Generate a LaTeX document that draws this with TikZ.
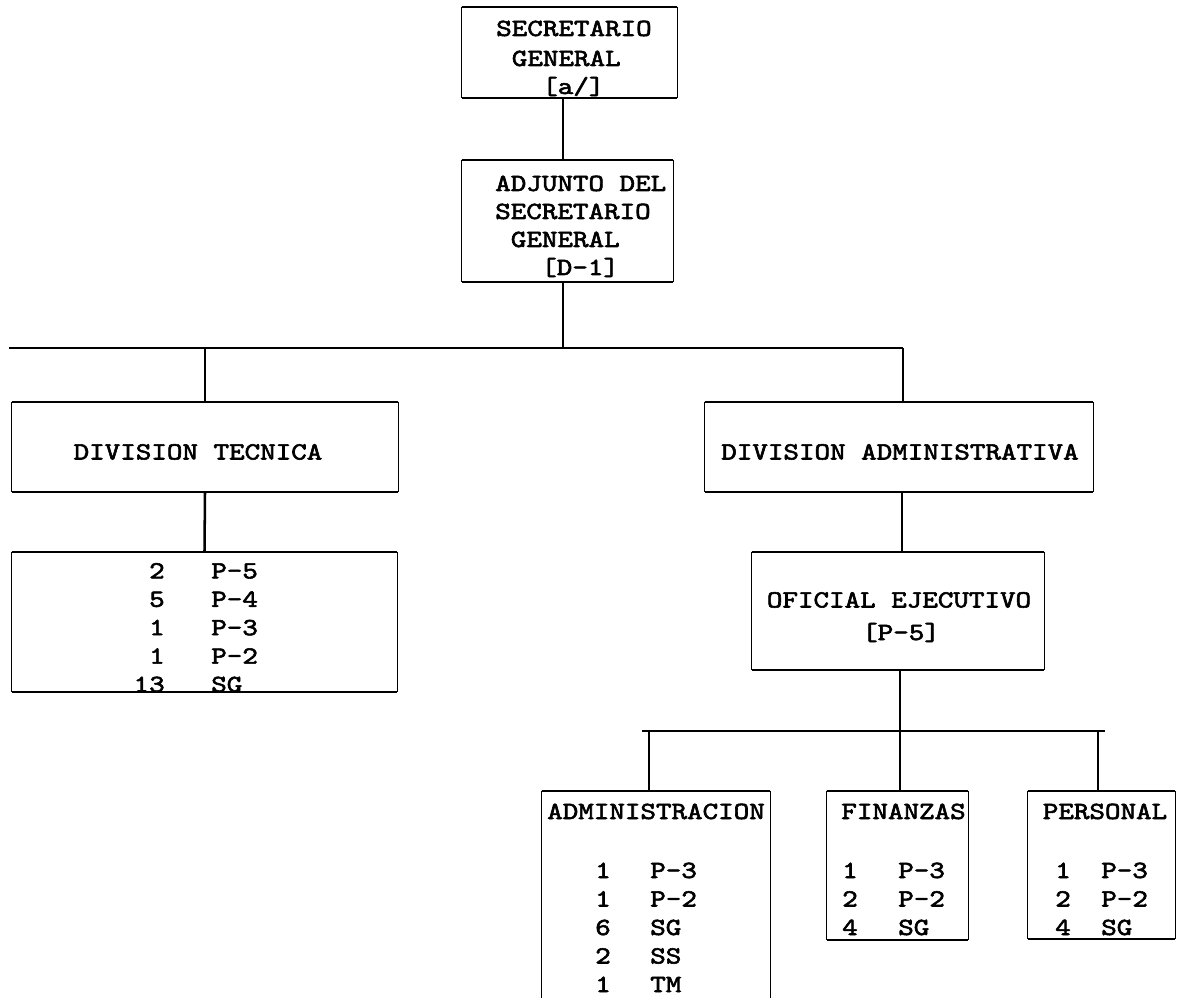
\documentclass[tikz,border=0pt]{standalone}
\usepackage{graphicx}
\usepackage{fontspec}
\newfontfamily\twfont{lmmono10-regular.otf}[FakeBold=2.2]
\usetikzlibrary{fit}
\newcommand{\lblfont}{\fontsize{18.5}{20}\selectfont\twfont}
\newcommand{\twbox}[1]{\scalebox{1.2}[1]{#1}}
\begin{document}
\begin{tikzpicture}[x=0.75pt,y=-0.75pt,
  boxarea/.style={draw=none, inner sep=0pt, fit={#1}},
  hline/.style={line width=1.4pt},
  vline/.style={line width=0.8pt},
  conn/.style={line width=1.9pt},
  lbl/.style={font=\lblfont, inner sep=0pt, anchor=base},
  lblw/.style={lbl, anchor=base west},
  lble/.style={lbl, anchor=base east}]
\useasboundingbox (0,0) rectangle (1185,998);

% ---------- boxes ----------
\node[boxarea={(462,7) (677,98)}] (sg) {};
\node[boxarea={(462,160) (673,282)}] (adj) {};
\node[boxarea={(12,402) (398,492)}] (dt) {};
\node[boxarea={(12,552) (397,692)}] (dts) {};
\node[boxarea={(705,402) (1093,492)}] (da) {};
\node[boxarea={(752,552) (1044,670)}] (of) {};
\node[boxarea={(542,791) (770,998)}] (adm) {};
\node[boxarea={(827,791) (968,940)}] (fin) {};
\node[boxarea={(1028,791) (1175,939)}] (pers) {};

\foreach \n in {sg,adj,dt,dts,da,of,fin,pers}{
  \draw[hline] (\n.north west) -- (\n.north east);
  \draw[hline] (\n.south west) -- (\n.south east);
  \draw[vline] (\n.north west) -- (\n.south west);
  \draw[vline] (\n.north east) -- (\n.south east);
}
\draw[hline] (adm.north west) -- (adm.north east);
\draw[vline] (adm.north west) -- (adm.south west);
\draw[vline] (adm.north east) -- (adm.south east);

% ---------- texts ----------
\node[lblw] (sg1) at (496,36) {\twbox{SECRETARIO}};
\node[lblw] (sg2) at (511.6,66) {\twbox{GENERAL}};
\node[lblw] (sg3) at (542,94) {\twbox{[a/]}};

\node[lblw] (adj1) at (495,191) {\twbox{ADJUNTO DEL}};
\node[lblw] (adj2) at (495,219) {\twbox{SECRETARIO}};
\node[lblw] (adj3) at (510.6,247) {\twbox{GENERAL}};
\node[lblw] (adj4) at (541,275) {\twbox{[D-1]}};

\node[lbl] (dtt) at (198,459.5) {\twbox{DIVISION TECNICA}};
\foreach \num/\code [count=\i] in {2/P-5,5/P-4,1/P-3,1/P-2,13/SG}{
  \node[lble] (dtn\i) at (165,550+28.4*\i) {\twbox{\num}};
  \node[lblw] (dtc\i) at (211,550+28.4*\i) {\twbox{\code}};
}

\node[lbl] (dat) at (900,459.5) {\twbox{DIVISION ADMINISTRATIVA}};
\node[lbl] (of1) at (899,607.5) {\twbox{OFICIAL EJECUTIVO}};
\node[lbl] (of2) at (901,640) {\twbox{[P-5]}};

\node[lbl] (admt) at (656,819) {\twbox{ADMINISTRACION}};
\foreach \num/\code [count=\i] in {1/P-3,1/P-2,6/SG,2/SS,1/TM}{
  \node[lbl] (admn\i) at (603,849.5+28.5*\i) {\twbox{\num}};
  \node[lblw] (admc\i) at (650,849.5+28.5*\i) {\twbox{\code}};
}

\node[lbl] (fint) at (903.5,819) {\twbox{FINANZAS}};
\foreach \num/\code [count=\i] in {1/P-3,2/P-2,4/SG}{
  \node[lbl] (finn\i) at (850,849.5+28.5*\i) {\twbox{\num}};
  \node[lblw] (finc\i) at (898,849.5+28.5*\i) {\twbox{\code}};
}

\node[lbl] (perst) at (1105,819) {\twbox{PERSONAL}};
\foreach \num/\code [count=\i] in {1/P-3,2/P-2,4/SG}{
  \node[lbl] (persn\i) at (1063,849.5+28.5*\i) {\twbox{\num}};
  \node[lblw] (persc\i) at (1101,849.5+28.5*\i) {\twbox{\code}};
}

% ---------- connectors ----------
\coordinate (j1) at (563,348);
\coordinate (b1l) at (9,348);
\coordinate (b1r) at (903,348);
\coordinate (j3) at (902,500);
\coordinate (j2) at (900,731);
\coordinate (b2l) at (642,731);
\coordinate (b2r) at (1105,731);
\coordinate (ja) at (649,731);
\coordinate (jp) at (1098,731);

\draw[conn] (sg.south -| j1) -- (adj.north -| j1);
\draw[conn] (adj.south -| j1) -- (j1);
\draw[conn] (b1l) -- (b1r);
\draw[conn] (b1l -| dt.north) -- (dt.north);
\draw[conn] (b1r) -- (b1r |- da.north);
\draw[conn] (dt.south) -- (dts.north);
\draw[conn] (da.south -| j3) -- (of.north -| j3);
\draw[conn] (of.south -| j2) -- (fin.north -| j2);
\draw[conn] (b2l) -- (b2r);
\draw[conn] (ja) -- (ja |- adm.north);
\draw[conn] (jp) -- (jp |- pers.north);
\end{tikzpicture}
\end{document}
